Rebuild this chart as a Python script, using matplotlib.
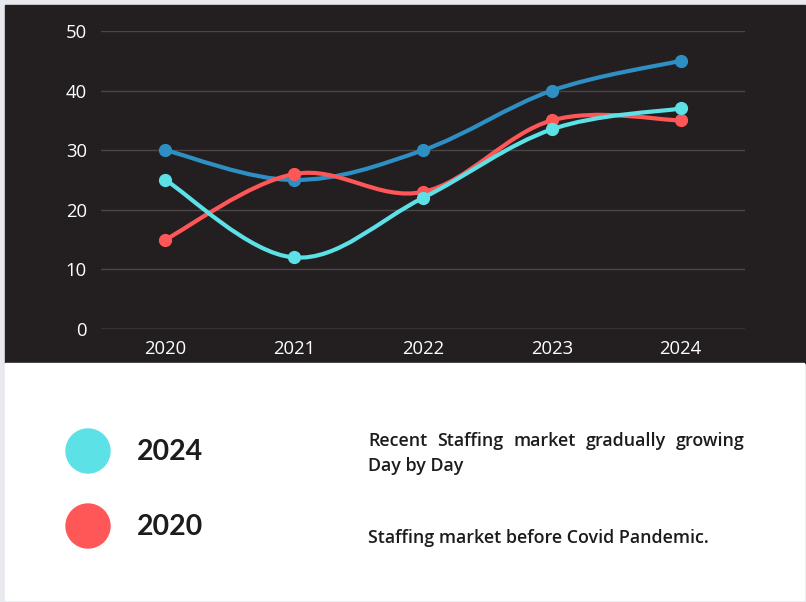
import matplotlib
matplotlib.use('Agg')
import matplotlib.pyplot as plt
import numpy as np
from matplotlib.path import Path
from matplotlib.patches import PathPatch, Rectangle, Ellipse

# data
years = ['2020', '2021', '2022', '2023', '2024']
blue_vals = [30, 25, 30, 40, 45]
cyan_vals = [25, 12, 22, 33.5, 37]
red_vals = [15, 26, 23, 35, 35]
y_ticks = [0, 10, 20, 30, 40, 50]

legend_labels = ['2024', '2020']
legend_notes = ['Recent Staffing market gradually growing Day by Day',
                'Staffing market before Covid Pandemic.']

BLUE = '#2e8fc4'
CYAN = '#5ce1e6'
RED = '#ff5757'
DARK = '#231f20'

W, H = 806, 602
fig = plt.figure(figsize=(W / 100, H / 100), dpi=100)
fig.patch.set_facecolor('#e8e9ee')

# panels
fig.patches.append(Rectangle((5 / W, 1 - 363 / H), 800 / W, 358 / H,
                             transform=fig.transFigure, color=DARK, zorder=-2))
fig.patches.append(Rectangle((5 / W, 1 - 600 / H), 799 / W, 237 / H,
                             transform=fig.transFigure, color='white', zorder=-2))

ax = fig.add_axes([101 / W, 1 - 329 / H, 644 / W, 298 / H])
ax.set_facecolor('none')
ax.set_xlim(-0.5, len(years) - 0.5)
ax.set_ylim(0, 50)
for s in ax.spines.values():
    s.set_visible(False)
ax.set_yticks(y_ticks)
ax.set_xticks(range(len(years)))
ax.set_xticklabels(years)
ax.tick_params(length=0, colors='white', labelsize=13.3, pad=10)
ax.tick_params(axis='x', pad=8)
for lab in ax.get_xticklabels() + ax.get_yticklabels():
    lab.set_fontfamily('Open Sans')
for t in y_ticks:
    ax.axhline(t, color='#8a8a8a' if t == 0 else '#4a4648', lw=1, zorder=1)


def smooth_path(xs, ys, k=0.35):
    # cardinal spline as cubic bezier segments
    pts = list(zip(xs, ys))
    n = len(pts)
    verts = [pts[0]]
    codes = [Path.MOVETO]
    for i in range(n - 1):
        p0 = pts[max(i - 1, 0)]
        p1 = pts[i]
        p2 = pts[i + 1]
        p3 = pts[min(i + 2, n - 1)]
        c1 = (p1[0] + (p2[0] - p0[0]) * k / 2, p1[1] + (p2[1] - p0[1]) * k / 2)
        c2 = (p2[0] - (p3[0] - p1[0]) * k / 2, p2[1] - (p3[1] - p1[1]) * k / 2)
        verts += [c1, c2, p2]
        codes += [Path.CURVE4] * 3
    return Path(verts, codes)


x = np.arange(len(years))
for vals, col, z in [(blue_vals, BLUE, 3), (red_vals, RED, 4), (cyan_vals, CYAN, 5)]:
    ax.add_patch(PathPatch(smooth_path(x, vals), fill=False, edgecolor=col,
                           lw=3, capstyle='round', zorder=z))
    ax.plot(x, vals, 'o', color=col, markersize=8.5, zorder=z, clip_on=False)

# legend section
for col, yy in zip([CYAN, RED], [451, 526]):
    fig.patches.append(Ellipse((88 / W, 1 - yy / H), 44 / W, 44 / H,
                               transform=fig.transFigure, color=col, zorder=2))

for lab, yy in zip(legend_labels, [452, 527]):
    fig.text(137 / W, 1 - yy / H, lab, fontsize=20.5, fontweight='bold',
             family='Lato', color='#1c1c1c', va='center', ha='left')

note_font = dict(fontsize=12.9, fontweight='semibold', family='Open Sans', color='#1c1c1c',
                 va='center')

# justified first line
fig.canvas.draw()
renderer = fig.canvas.get_renderer()
words = legend_notes[0].split()
line1 = words[:5]
line2 = ' '.join(words[5:])
x0, x1 = 368, 745
widths = []
for w_ in line1:
    t = fig.text(0, 0, w_, **note_font)
    widths.append(t.get_window_extent(renderer).width)
    t.remove()
gap = (x1 - x0 - sum(widths)) / (len(line1) - 1)
xx = x0
for w_, wd in zip(line1, widths):
    fig.text(xx / W, 1 - 441 / H, w_, ha='left', **note_font)
    xx += wd + gap
fig.text(x0 / W, 1 - 466 / H, line2, ha='left', **note_font)
fig.text(x0 / W, 1 - 538 / H, legend_notes[1], ha='left', **note_font)

fig.savefig('out.png', dpi=100, facecolor=fig.get_facecolor())
